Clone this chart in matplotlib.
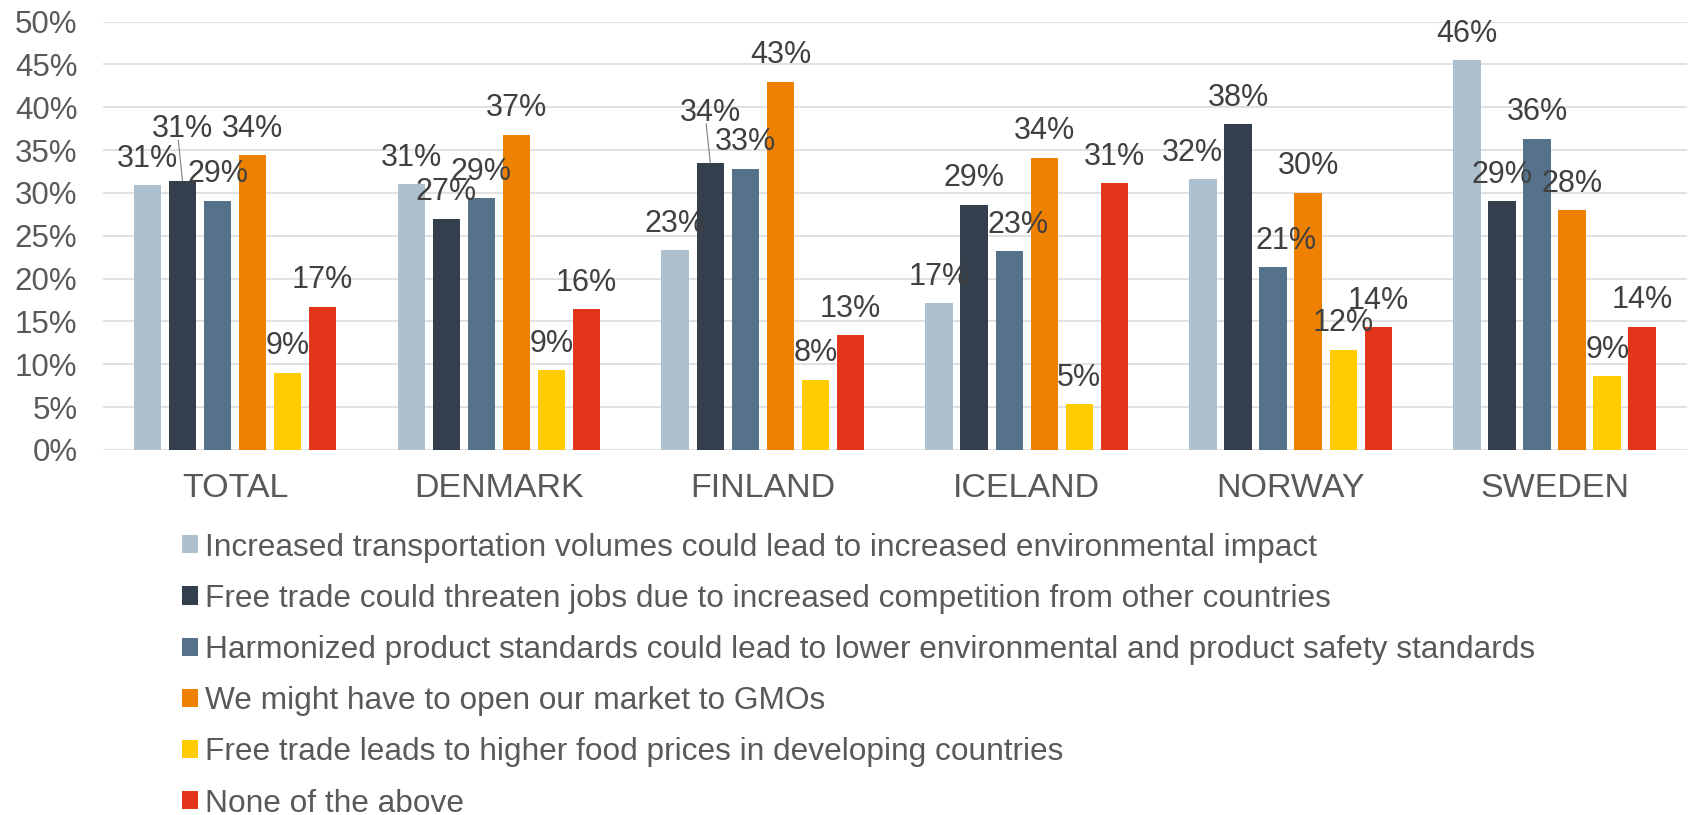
import matplotlib
matplotlib.use("Agg")
import matplotlib.pyplot as plt
from matplotlib.patches import Patch
import numpy as np

plt.rcParams['font.family'] = ['Liberation Sans', 'DejaVu Sans']

# Laender / Gruppen
countries = ['TOTAL', 'DENMARK', 'FINLAND', 'ICELAND', 'NORWAY', 'SWEDEN']

# Antworten (Legende)
answers = ['Increased transportation volumes could lead to increased environmental impact',
           'Free trade could threaten jobs due to increased competition from other countries',
           'Harmonized product standards could lead to lower environmental and product safety standards',
           'We might have to open our market to GMOs',
           'Free trade leads to higher food prices in developing countries',
           'None of the above']

# Werte in % (eine Liste pro Antwort, Reihenfolge wie countries)
transport = [30.9, 31.0, 23.3, 17.1, 31.6, 45.5]
jobs = [31.4, 27.0, 33.5, 28.6, 38.0, 29.0]
standards = [29.1, 29.4, 32.8, 23.2, 21.3, 36.3]
gmo = [34.4, 36.8, 43.0, 34.1, 30.0, 28.0]
food_prices = [9.0, 9.3, 8.2, 5.3, 11.7, 8.6]
none_above = [16.7, 16.4, 13.4, 31.1, 14.3, 14.4]

series = [transport, jobs, standards, gmo, food_prices, none_above]
colors = ['#ADC0CE', '#333F4D', '#56728A', '#EE8100', '#FFCC00', '#E33519']

# verschobene Labels (Gruppe, Serie) -> (dx, dy) in pt
nudge = {(0, 1): (0, 18), (2, 1): (0, 17), (3, 2): (6, 0), (4, 0): (-8, 0), (4, 2): (9, 0)}

fig = plt.figure(figsize=(16.9, 8.15), dpi=100)
ax = fig.add_axes([0.061, 0.448, 0.937, 0.5255])

x_pos = np.arange(len(countries))
slot = 0.1328
width = 0.1045

for i, vals in enumerate(series):
    xs = x_pos + (i - 2.5) * slot
    ax.bar(xs, vals, width=width, color=colors[i], zorder=2)
    for g, (x, v) in enumerate(zip(xs, vals)):
        dx, dy = nudge.get((g, i), (0, 0))
        ax.annotate('%d%%' % round(v), xy=(x, v), xytext=(dx, 13.3 + dy),
                    textcoords='offset points', ha='center', va='baseline',
                    fontsize=22, color='#404040', zorder=3)
        if dy > 0:
            ax.annotate('', xy=(x, v), xytext=(dx - 3, 13.3 + dy - 2),
                        textcoords='offset points',
                        arrowprops=dict(arrowstyle='-', color='#7F7F7F', lw=0.8,
                                        shrinkA=0, shrinkB=0))

ax.set_xlim(-0.5, 5.5)
ax.set_ylim(0, 50)
ax.set_yticks(np.arange(0, 51, 5))
ax.set_yticklabels(['%d%%' % t for t in range(0, 51, 5)])
ax.set_xticks(x_pos)
ax.set_xticklabels(countries)
ax.tick_params(axis='y', length=0, pad=18.5, labelsize=22.5, labelcolor='#595959')
ax.tick_params(axis='x', length=0, pad=16.5, labelsize=24.5, labelcolor='#595959')
ax.grid(axis='y', color='#D9D9D9', lw=1.1, zorder=0)
for s in ax.spines.values():
    s.set_visible(False)

handles = [Patch(facecolor=c, edgecolor='none') for c in colors]
fig.legend(handles, answers, loc='upper left', bbox_to_anchor=(0.1075, 0.3466),
           frameon=False, fontsize=22.8, labelcolor='#595959',
           handlelength=0.5, handleheight=0.5, handletextpad=0.25,
           labelspacing=0.67, borderpad=0, borderaxespad=0)

fig.savefig('out.png', dpi=100)
